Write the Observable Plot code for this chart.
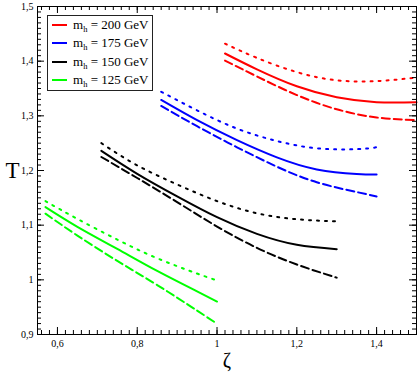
<!DOCTYPE html>
<html><head><meta charset="utf-8">
<script src="https://cdn.jsdelivr.net/npm/d3@7"></script>
<script src="https://cdn.jsdelivr.net/npm/@observablehq/plot@0.6"></script>
<style>
body{margin:0}
#legend{position:absolute;left:47px;top:15px;width:106px;height:76px;box-sizing:border-box;border:1px solid #222;background:#fff;font-family:"Liberation Serif",serif;font-size:13px;color:#000;}
.row{position:absolute;left:0;height:18px;display:flex;align-items:center;white-space:nowrap;}
.sw{display:inline-block;width:15px;height:2px;margin-left:4px;margin-right:6px;}
.sub{font-size:8.5px;position:relative;top:3px;}
</style></head><body><div id="wrap"></div>
<script>
// Legend
const masses = ["200", "175", "150", "125"];
const colors = ["#ff0000", "#0000ff", "#000000", "#00ff00"];

// Tick values
const xMajor = [0.6, 0.8, 1.0, 1.2, 1.4];
const yMajor = [0.9, 1.0, 1.1, 1.2, 1.3, 1.4, 1.5];
const xMinor = d3.range(28, 76).map(i => i / 50);
const yMinor = d3.range(90, 151).map(i => i / 100);

// m_h = 200 GeV (red)
const zRed = [1.02, 1.1, 1.2, 1.3, 1.4, 1.5];
const tRedSolid = [1.414, 1.385, 1.354, 1.334, 1.325, 1.325];
const tRedDashed = [1.401, 1.372, 1.338, 1.312, 1.297, 1.292];
const tRedDotted = [1.432, 1.406, 1.380, 1.365, 1.3635, 1.370];

// m_h = 175 GeV (blue)
const zBlue = [0.86, 0.95, 1.05, 1.15, 1.25, 1.35, 1.4];
const tBlueSolid = [1.329, 1.292, 1.2555, 1.224, 1.202, 1.1935, 1.1925];
const tBlueDashed = [1.318, 1.281, 1.2425, 1.207, 1.1785, 1.1606, 1.1525];
const tBlueDotted = [1.344, 1.310, 1.2766, 1.254, 1.2406, 1.239, 1.2425];

// m_h = 150 GeV (black)
const zBlack = [0.71, 0.8, 0.9, 1.0, 1.1, 1.2, 1.3];
const tBlackSolid = [1.236, 1.194, 1.1527, 1.1146, 1.084, 1.064, 1.056];
const tBlackDashed = [1.2247, 1.1863, 1.1422, 1.0975, 1.0585, 1.028, 1.004];
const tBlackDotted = [1.250, 1.2094, 1.1745, 1.144, 1.1218, 1.1108, 1.107];

// m_h = 125 GeV (green)
const zGreen = [0.57, 0.65, 0.75, 0.85, 0.95, 1.0];
const tGreenSolid = [1.133, 1.097, 1.0565, 1.0162, 0.9788, 0.9603];
const tGreenDashed = [1.121, 1.081, 1.0346, 0.9905, 0.9437, 0.9196];
const tGreenDotted = [1.144, 1.1114, 1.0736, 1.0395, 1.0115, 0.9987];

const families = [
  {z: zRed, solid: tRedSolid, dashed: tRedDashed, dotted: tRedDotted},
  {z: zBlue, solid: tBlueSolid, dashed: tBlueDashed, dotted: tBlueDotted},
  {z: zBlack, solid: tBlackSolid, dashed: tBlackDashed, dotted: tBlackDotted},
  {z: zGreen, solid: tGreenSolid, dashed: tGreenDashed, dotted: tGreenDotted}
];
const dashes = {solid: null, dashed: "8,4", dotted: "2,6"};

const fmt = d => String(+d.toFixed(2)).replace(".", ",");

const lineMarks = [];
families.forEach((f, i) => {
  for (const style of ["solid", "dashed", "dotted"]) {
    const rows = f.z.map((z, j) => ({z, T: f[style][j]}));
    lineMarks.push(Plot.line(rows, {
      x: "z", y: "T", stroke: colors[i], strokeWidth: 2,
      strokeDasharray: dashes[style], curve: "natural"
    }));
  }
});

const W = 418, H = 372, mL = 37, mR = 2, mT = 6, mB = 38;
const xDom = [0.55, 1.5], yDom = [0.9, 1.5];
// tick lengths in pixels, converted into data units
const innerW = W - mL - mR, innerH = H - mT - mB;
const pxX = (xDom[1] - xDom[0]) / innerW, pxY = (yDom[1] - yDom[0]) / innerH;
const majorLen = 7, minorLen = 4;

function xTicks(vals, len) {
  return [
    Plot.ruleX(vals, {x: d => d, y1: yDom[0], y2: yDom[0] + len * pxY, stroke: "black"}),
    Plot.ruleX(vals, {x: d => d, y1: yDom[1], y2: yDom[1] - len * pxY, stroke: "black"})
  ];
}
function yTicks(vals, len) {
  return [
    Plot.ruleY(vals, {y: d => d, x1: xDom[0], x2: xDom[0] + len * pxX, stroke: "black"}),
    Plot.ruleY(vals, {y: d => d, x1: xDom[1], x2: xDom[1] - len * pxX, stroke: "black"})
  ];
}

const serif = "Liberation Serif, Times New Roman, serif";
const chart = Plot.plot({
  width: W, height: H,
  marginLeft: mL, marginRight: mR, marginTop: mT, marginBottom: mB,
  x: {domain: xDom, ticks: xMajor, tickSize: 0, tickPadding: 5, tickFormat: fmt, label: null},
  y: {domain: yDom, ticks: yMajor, tickSize: 0, tickPadding: 4, tickFormat: fmt, label: null},
  style: {fontFamily: serif, fontSize: "10px"},
  marks: [
    ...lineMarks,
    ...xTicks(xMinor, minorLen),
    ...xTicks(xMajor, majorLen),
    ...yTicks(yMinor, minorLen),
    ...yTicks(yMajor, majorLen),
    Plot.frame(),
    Plot.text(["T"], {frameAnchor: "left", dx: -25, textAnchor: "middle", lineAnchor: "middle", fontSize: 23, fontFamily: serif, text: d => d}),
    Plot.text(["ζ"], {frameAnchor: "bottom", dy: 26, textAnchor: "middle", lineAnchor: "middle", fontSize: 20, fontFamily: serif, text: d => d})
  ]
});

document.getElementById("wrap").appendChild(chart);

const legend = document.createElement("div");
legend.id = "legend";
masses.forEach((m, i) => {
  const row = document.createElement("div");
  row.className = "row";
  row.style.top = (i * 18.33) + "px";
  row.innerHTML = `<span class="sw" style="background:${colors[i]}"></span><span>m<span class="sub">h</span> = ${m} GeV</span>`;
  legend.appendChild(row);
});
document.body.appendChild(legend);
</script>
</body></html>
